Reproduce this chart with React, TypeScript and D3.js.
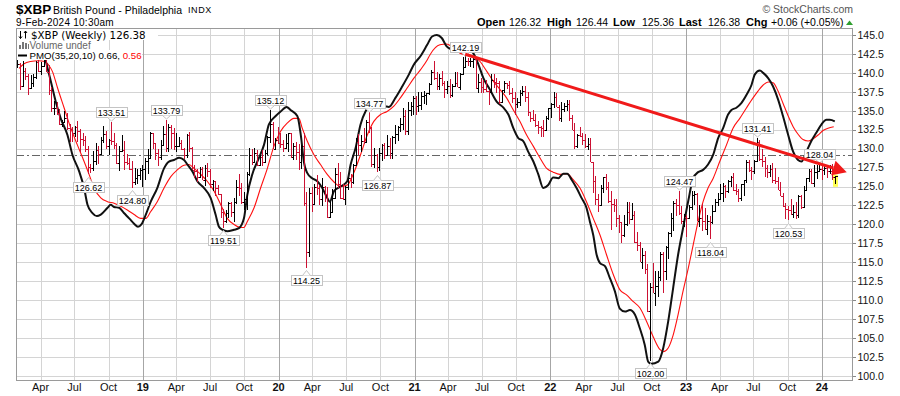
import React from "react";
import * as d3 from "d3";

// ---------- DATA ----------
const firstWeekStart = new Date(2018, 0, 29); // Monday of first weekly bar
const symbolName = "$XBP";
const title = "British Pound - Philadelphia";
const exchange = "INDX";
const stamp = "9-Feb-2024 10:30am";

const opens = [
  141.0, 141.2, 138.3, 140.2, 139.6, 138.0, 138.6, 139.4, 141.4, 140.2,
  140.9, 142.4, 140.1, 137.7, 135.3, 135.4, 134.7, 133.2, 133.5, 134.1,
  132.7, 132.6, 132.0, 132.8, 132.3, 131.3, 131.1, 130.0, 127.6, 127.4,
  128.4, 129.8, 129.3, 131.2, 131.9, 130.4, 131.2, 131.0, 130.5, 128.1,
  129.7, 129.8, 128.3, 128.1, 127.3, 125.6, 126.1, 126.5, 127.2, 127.3,
  128.4, 128.8, 132.0, 130.7, 129.4, 128.9, 130.5, 131.9, 130.1, 132.9,
  132.1, 130.3, 130.4, 130.8, 130.0, 129.2, 131.8, 130.1, 127.2, 127.1,
  126.3, 127.3, 125.9, 127.4, 127.0, 125.3, 125.7, 124.8, 124.0, 121.6,
  120.4, 121.5, 122.8, 121.6, 123.0, 124.9, 124.8, 122.9, 123.3, 126.7,
  129.2, 128.3, 129.4, 127.8, 128.9, 128.3, 129.4, 131.5, 133.3, 130.0,
  131.1, 130.8, 130.6, 130.1, 130.8, 132.0, 128.9, 130.4, 129.6, 128.2,
  130.4, 122.8, 116.4, 124.2, 122.7, 124.9, 124.8, 123.4, 124.9, 124.0,
  121.0, 121.7, 123.5, 126.6, 125.4, 123.5, 123.4, 124.9, 126.1, 125.6,
  127.9, 130.9, 130.5, 131.0, 130.9, 133.5, 132.7, 128.0, 129.2, 127.6,
  129.4, 130.5, 129.2, 130.4, 129.4, 131.5, 131.9, 132.8, 133.2, 134.3,
  132.3, 135.1, 135.6, 136.7, 135.6, 135.8, 136.9, 137.1, 137.3, 138.5,
  140.1, 139.3, 138.3, 139.3, 138.6, 137.9, 138.3, 137.1, 138.3, 138.7,
  138.2, 139.9, 140.8, 141.6, 141.5, 141.6, 141.8, 138.0, 138.8, 138.2,
  137.9, 137.6, 137.5, 139.0, 138.8, 138.7, 136.1, 137.7, 138.6, 138.4,
  137.3, 136.7, 135.9, 136.2, 137.4, 137.6, 136.8, 134.9, 134.1, 133.8,
  133.1, 132.9, 132.7, 132.4, 134.1, 135.3, 135.9, 136.8, 135.5, 134.0,
  135.2, 135.6, 135.9, 134.1, 132.5, 130.3, 131.8, 131.7, 131.1, 130.3,
  130.6, 128.3, 125.7, 123.4, 122.6, 124.8, 126.2, 124.9, 123.1, 122.7,
  122.6, 120.9, 120.3, 118.6, 120.1, 121.7, 120.7, 121.3, 117.7, 117.3,
  115.1, 115.9, 114.1, 108.6, 111.7, 110.9, 111.9, 113.0, 116.1, 113.8,
  117.0, 118.9, 120.9, 122.8, 122.6, 121.5, 120.5, 121.0, 120.9, 122.3,
  123.9, 124.0, 120.5, 120.9, 120.4, 119.4, 120.4, 120.3, 121.8, 122.9,
  123.4, 124.1, 125.1, 124.4, 125.7, 126.3, 124.5, 124.4, 123.5, 125.3,
  125.8, 128.2, 127.2, 127.0, 128.4, 130.9, 128.6, 128.4, 127.5, 126.9,
  127.3, 125.9, 125.7, 124.6, 123.8, 122.4, 122.0, 121.9, 121.4, 121.6,
  121.2, 123.8, 122.3, 124.5, 126.1, 127.1, 125.5, 126.9, 127.1, 127.3,
  127.2, 127.5, 127.0, 127.1, 126.32,
];

const highs = [
  142.5, 141.3, 141.5, 140.6, 139.8, 139.7, 139.9, 141.5, 142.5, 141.4,
  142.9, 143.8, 141.1, 138.2, 136.3, 136.2, 135.2, 133.8, 135.0, 134.7,
  133.2, 132.8, 133.0, 133.6, 132.6, 132.0, 131.7, 130.4, 128.0, 129.7,
  130.8, 130.3, 131.6, 133.0, 132.3, 131.3, 133.51, 132.0, 130.8, 130.3,
  131.8, 131.0, 129.3, 128.7, 128.4, 127.5, 127.3, 127.4, 127.9, 128.7,
  130.0, 132.2, 132.1, 130.8, 129.9, 131.1, 133.0, 133.79, 133.2, 133.1,
  132.7, 132.0, 131.5, 131.2, 130.1, 131.9, 132.2, 130.2, 127.9, 127.3,
  127.6, 127.6, 127.8, 128.1, 127.3, 125.9, 125.7, 125.2, 124.0, 122.0,
  121.9, 122.9, 123.0, 123.5, 125.8, 126.7, 125.5, 124.3, 126.9, 130.1,
  129.9, 130.1, 129.8, 129.2, 129.8, 129.8, 131.7, 135.12, 133.5, 131.4,
  132.8, 132.1, 131.2, 131.9, 132.1, 132.1, 130.7, 130.9, 130.6, 130.5,
  132.0, 124.3, 124.8, 124.9, 125.3, 126.5, 125.2, 126.1, 125.1, 124.9,
  122.9, 124.7, 127.4, 128.1, 126.9, 125.4, 125.1, 126.3, 126.6, 128.0,
  131.4, 131.9, 131.8, 132.7, 133.8, 134.77, 132.8, 130.1, 129.3, 130.1,
  130.6, 130.8, 131.8, 131.4, 131.7, 133.1, 133.0, 134.0, 135.4, 135.1,
  136.2, 136.2, 137.0, 137.0, 137.5, 137.5, 137.6, 137.4, 138.6, 140.4,
  141.6, 140.1, 139.8, 140.2, 138.9, 138.9, 139.2, 138.5, 140.1, 140.1,
  140.0, 142.1, 142.19, 141.9, 141.9, 142.0, 141.7, 139.8, 139.3, 139.1,
  139.1, 137.8, 139.8, 139.8, 139.3, 138.9, 137.8, 138.9, 138.7, 138.9,
  138.0, 137.5, 136.7, 137.7, 138.3, 138.3, 137.5, 134.8, 135.1, 134.6,
  133.7, 133.0, 133.8, 134.3, 135.4, 136.0, 137.5, 137.3, 135.8, 136.1,
  136.0, 136.4, 136.4, 134.4, 133.4, 131.9, 132.9, 132.1, 131.9, 131.4,
  131.4, 128.3, 126.4, 124.0, 125.2, 126.2, 126.7, 125.6, 124.4, 123.3,
  123.3, 121.3, 120.1, 121.3, 122.9, 122.9, 122.8, 121.8, 119.0, 117.7,
  116.9, 116.5, 114.8, 112.3, 114.9, 113.8, 113.8, 116.4, 116.3, 117.2,
  119.0, 121.5, 123.1, 123.4, 124.47, 122.4, 121.4, 121.2, 122.5, 124.4,
  124.4, 124.2, 122.6, 122.7, 122.2, 121.2, 121.1, 122.5, 123.4, 124.2,
  125.3, 125.5, 125.2, 125.9, 126.4, 126.8, 125.4, 124.7, 125.4, 125.9,
  128.5, 128.5, 127.6, 128.5, 131.41, 131.1, 129.9, 128.9, 127.9, 127.9,
  128.1, 127.5, 126.3, 125.6, 124.2, 122.8, 122.4, 123.4, 122.6, 122.9,
  123.9, 123.9, 125.1, 126.1, 127.3, 127.3, 127.9, 127.9, 128.04, 127.7,
  127.9, 127.8, 127.8, 128.0, 126.44,
];

const lows = [
  140.6, 137.7, 138.1, 139.0, 137.1, 137.9, 138.2, 139.2, 140.1, 139.7,
  140.9, 140.1, 137.1, 134.9, 134.5, 134.5, 133.1, 132.9, 133.4, 132.5,
  130.9, 130.9, 131.6, 130.9, 129.6, 130.3, 129.6, 126.62, 126.8, 127.1,
  127.9, 128.0, 129.2, 130.8, 129.9, 129.2, 130.5, 129.9, 128.0, 127.0,
  129.6, 127.2, 127.8, 127.2, 124.8, 125.2, 125.3, 125.9, 125.0, 125.9,
  126.7, 128.7, 130.0, 128.5, 127.7, 128.5, 130.4, 129.6, 129.6, 130.0,
  129.8, 129.6, 130.4, 129.8, 128.6, 128.8, 129.6, 127.2, 126.1, 125.6,
  126.2, 125.8, 125.1, 126.2, 124.8, 124.4, 123.8, 123.9, 120.8, 119.51,
  120.2, 120.9, 121.0, 120.3, 122.7, 123.8, 122.7, 121.9, 121.9, 126.4,
  127.9, 128.3, 127.7, 127.8, 127.7, 128.2, 129.2, 130.8, 129.9, 129.8,
  130.6, 130.1, 129.6, 129.9, 129.5, 128.7, 128.5, 128.5, 127.2, 127.3,
  122.4, 114.25, 115.7, 121.7, 122.7, 123.9, 122.5, 122.4, 123.0, 120.9,
  120.8, 121.9, 123.4, 124.8, 123.4, 123.2, 122.5, 124.5, 124.8, 125.4,
  127.9, 129.2, 129.6, 130.6, 130.8, 132.0, 127.6, 127.5, 126.87, 127.1,
  128.4, 128.6, 129.1, 128.6, 128.6, 130.6, 131.0, 132.2, 132.4, 131.8,
  131.8, 134.3, 134.5, 134.5, 134.9, 135.1, 135.9, 135.7, 137.1, 138.4,
  139.1, 137.8, 137.8, 138.3, 136.7, 137.2, 136.7, 136.8, 138.2, 138.2,
  137.8, 139.8, 140.7, 140.9, 140.8, 140.7, 137.9, 137.4, 137.3, 137.3,
  137.5, 135.7, 137.5, 138.0, 137.3, 135.9, 136.0, 137.3, 137.9, 137.1,
  136.0, 134.4, 135.3, 135.6, 137.0, 136.1, 134.3, 133.5, 133.6, 132.8,
  131.9, 131.6, 131.6, 132.6, 133.8, 134.1, 135.4, 135.5, 133.6, 133.5,
  134.9, 135.0, 133.6, 132.5, 130.0, 130.1, 131.5, 130.5, 130.1, 129.8,
  128.3, 124.1, 122.6, 121.6, 122.6, 124.1, 124.5, 122.8, 119.3, 121.6,
  119.7, 118.9, 117.6, 118.4, 119.8, 120.1, 120.6, 117.5, 116.5, 115.0,
  114.1, 113.5, 108.4, 102.0, 110.9, 109.2, 110.4, 112.6, 110.9, 112.7,
  115.5, 118.3, 119.1, 121.1, 121.3, 120.1, 119.6, 118.4, 120.7, 121.9,
  122.6, 120.4, 119.6, 119.1, 119.2, 118.6, 118.04, 120.1, 121.7, 122.4,
  123.4, 123.0, 123.5, 124.1, 124.9, 124.4, 123.9, 122.9, 123.1, 123.7,
  125.5, 126.9, 125.9, 126.6, 128.3, 128.4, 127.6, 126.2, 126.1, 126.2,
  125.5, 125.4, 124.5, 123.8, 122.3, 120.7, 120.53, 121.2, 120.9, 120.7,
  120.9, 122.0, 122.3, 124.5, 125.6, 125.4, 124.9, 126.0, 126.9, 125.9,
  126.5, 126.1, 126.6, 125.9, 125.36,
];

const closes = [
  141.2, 138.3, 140.2, 139.6, 138.0, 138.6, 139.4, 141.4, 140.2, 140.9,
  142.4, 140.1, 137.7, 135.3, 135.4, 134.7, 133.2, 133.5, 134.1, 132.7,
  132.6, 132.0, 132.8, 132.3, 131.3, 131.1, 130.0, 127.6, 127.4, 128.4,
  129.8, 129.3, 131.2, 131.9, 130.4, 131.2, 131.0, 130.5, 128.1, 129.7,
  129.8, 128.3, 128.1, 127.3, 125.6, 126.1, 126.5, 127.2, 127.3, 128.4,
  128.8, 132.0, 130.7, 129.4, 128.9, 130.5, 131.9, 130.1, 132.9, 132.1,
  130.3, 130.4, 130.8, 130.0, 129.2, 131.8, 130.1, 127.2, 127.1, 126.3,
  127.3, 125.9, 127.4, 127.0, 125.3, 125.7, 124.8, 124.0, 121.6, 120.4,
  121.5, 122.8, 121.6, 123.0, 124.9, 124.8, 122.9, 123.3, 126.7, 129.2,
  128.3, 129.4, 127.8, 128.9, 128.3, 129.4, 131.5, 133.3, 130.0, 131.1,
  130.8, 130.6, 130.1, 130.8, 132.0, 128.9, 130.4, 129.6, 128.2, 130.4,
  122.8, 116.4, 124.2, 122.7, 124.9, 124.8, 123.4, 124.9, 124.0, 121.0,
  121.7, 123.5, 126.6, 125.4, 123.5, 123.4, 124.9, 126.1, 125.6, 127.9,
  130.9, 130.5, 131.0, 130.9, 133.5, 132.7, 128.0, 129.2, 127.6, 129.4,
  130.5, 129.2, 130.4, 129.4, 131.5, 131.9, 132.8, 133.2, 134.3, 132.3,
  135.1, 135.6, 136.7, 135.6, 135.8, 136.9, 137.1, 137.3, 138.5, 140.1,
  139.3, 138.3, 139.3, 138.6, 137.9, 138.3, 137.1, 138.3, 138.7, 138.2,
  139.9, 140.8, 141.6, 141.5, 141.6, 141.8, 138.0, 138.8, 138.2, 137.9,
  137.6, 137.5, 139.0, 138.8, 138.7, 136.1, 137.7, 138.6, 138.4, 137.3,
  136.7, 135.9, 136.2, 137.4, 137.6, 136.8, 134.9, 134.1, 133.8, 133.1,
  132.9, 132.7, 132.4, 134.1, 135.3, 135.9, 136.8, 135.5, 134.0, 135.2,
  135.6, 135.9, 134.1, 132.5, 130.3, 131.8, 131.7, 131.1, 130.3, 130.6,
  128.3, 125.7, 123.4, 122.6, 124.8, 126.2, 124.9, 123.1, 122.7, 122.6,
  120.9, 120.3, 118.6, 120.1, 121.7, 120.7, 121.3, 117.7, 117.3, 115.1,
  115.9, 114.1, 108.6, 111.7, 110.9, 111.9, 113.0, 116.1, 113.8, 117.0,
  118.9, 120.9, 122.8, 122.6, 121.5, 120.5, 121.0, 120.9, 122.3, 123.9,
  124.0, 120.5, 120.9, 120.4, 119.4, 120.4, 120.3, 121.8, 122.9, 123.4,
  124.1, 125.1, 124.4, 125.7, 126.3, 124.5, 124.4, 123.5, 125.3, 125.8,
  128.2, 127.2, 127.0, 128.4, 130.9, 128.6, 128.4, 127.5, 126.9, 127.3,
  125.9, 125.7, 124.6, 123.8, 122.4, 122.0, 121.9, 121.4, 121.6, 121.2,
  123.8, 122.3, 124.5, 126.1, 127.1, 125.5, 126.9, 127.1, 127.3, 127.2,
  127.5, 127.0, 127.1, 126.32, 126.38,
];

// PMO line and its signal, read as [week index, value on the price axis]
const pmoLine: [number, number][] = [
  [0, 143.2], [4, 144.6], [7, 144.5], [9.5, 143.2], [10.9, 141.5], [12.8, 138.9], [14.7, 136.2],
  [16.6, 134.0], [19.2, 131.8], [21.1, 129.2], [23.7, 127.0], [25.6, 124.8], [26.9, 122.6],
  [28.8, 121.5], [30.5, 121.1], [32.0, 121.3], [34.6, 122.2], [35.8, 122.6], [37.1, 122.3],
  [39.0, 122.2], [40.9, 121.5], [42.9, 120.8], [44.8, 120.1], [46.3, 119.7], [47.6, 120.0],
  [49.3, 121.3], [51.2, 123.0], [53.7, 124.8], [56.3, 127.4], [58.2, 128.3], [60.1, 128.5],
  [62.1, 128.8], [64.0, 128.5], [65.3, 127.9], [67.2, 127.0], [69.1, 125.7], [71.7, 124.8],
  [74.2, 123.5], [76.1, 121.3], [77.4, 119.7], [78.7, 119.3], [80.6, 119.1], [83.2, 119.3],
  [85.1, 119.5], [87.0, 120.8], [88.3, 123.9], [90.2, 126.6], [92.8, 128.8], [94.7, 130.5],
  [96.6, 133.2], [99.2, 134.3], [101.1, 134.9], [103.4, 135.5], [104.9, 135.1], [107.5, 134.3],
  [109.0, 131.4], [110.0, 128.3], [111.3, 126.8], [113.2, 126.1], [115.2, 125.7], [117.1, 124.8],
  [119.0, 123.5], [120.0, 123.0], [121.6, 124.4], [124.1, 125.0], [126.7, 125.7], [128.0, 127.9],
  [129.9, 130.1], [131.8, 133.2], [133.7, 134.9], [135.6, 135.7], [138.2, 135.5], [140.8, 135.6],
  [142.7, 135.5], [145.2, 136.7], [147.8, 138.2], [150.4, 139.8], [152.3, 141.1], [154.8, 142.2],
  [157.4, 143.7], [159.3, 144.8], [161.1, 145.0], [163.0, 144.6], [164.9, 143.5], [166.8, 143.1],
  [168.7, 142.8], [171.3, 142.9], [173.2, 143.1], [175.1, 142.6], [177.1, 141.1], [179.0, 139.3],
  [181.5, 137.8], [184.1, 136.2], [186.7, 135.4], [188.6, 134.5], [190.5, 132.7], [192.4, 131.4],
  [194.3, 131.0], [196.2, 129.6], [198.2, 128.3], [200.1, 126.6], [202.0, 124.8], [203.9, 125.2],
  [205.8, 126.2], [207.8, 126.1], [209.7, 126.7], [211.2, 126.7], [212.9, 125.9], [214.8, 124.8],
  [216.7, 123.5], [218.6, 122.2], [219.9, 120.4], [221.2, 118.6], [222.5, 116.0], [223.8, 114.9],
  [225.7, 114.5], [227.6, 112.9], [229.5, 111.2], [231.4, 108.9], [233.4, 108.5], [235.3, 108.7],
  [237.2, 108.1], [239.1, 106.3], [241.0, 104.1], [242.3, 101.9], [243.5, 101.6], [246.2, 101.9],
  [248.1, 103.7], [250.0, 107.2], [251.9, 111.6], [253.8, 116.0], [255.7, 119.5], [257.7, 123.1],
  [259.6, 126.1], [261.5, 126.9], [263.4, 127.2], [265.3, 127.9], [267.3, 129.2], [269.2, 131.4],
  [271.1, 132.7], [273.0, 134.5], [274.3, 135.1], [276.2, 135.4], [278.1, 136.0], [280.1, 137.1],
  [282.0, 138.4], [283.3, 139.8], [285.2, 140.3], [286.5, 140.0], [288.4, 139.3], [290.3, 138.2],
  [292.2, 136.5], [294.1, 134.3], [296.1, 131.8], [298.0, 129.6], [299.9, 128.5], [301.2, 128.3],
  [303.1, 129.6], [305.0, 131.0], [306.9, 132.1], [308.9, 133.2], [310.8, 133.8], [312.1, 133.8],
  [314.0, 133.6],
];

const pmoSignal: [number, number][] = [
  [0.6, 140.6], [2.5, 141.2], [5, 141.5], [8, 141.6], [10.5, 141.5], [12, 141.0], [13.4, 140.2],
  [15.4, 138.0], [17.9, 135.4], [20.5, 132.7], [23.0, 130.5], [25.6, 128.3], [27.5, 126.6],
  [29.4, 124.8], [32.0, 123.5], [34.6, 123.0], [37.1, 122.8], [39.7, 122.4], [42.2, 121.9],
  [44.8, 121.3], [47.3, 120.8], [49.3, 120.8], [51.2, 121.7], [53.7, 123.0], [56.3, 124.8],
  [58.9, 126.3], [61.4, 127.2], [64.0, 127.8], [65.9, 127.9], [67.8, 127.4], [70.4, 126.6],
  [72.9, 125.7], [75.5, 124.4], [78.1, 122.6], [80.6, 120.8], [83.2, 120.0], [85.7, 119.6],
  [87.0, 119.6], [88.3, 120.4], [90.9, 122.2], [93.4, 124.8], [96.0, 127.4], [98.5, 130.3],
  [101.1, 132.3], [103.7, 133.4], [106.2, 134.0], [108.1, 134.0], [109.4, 132.7], [111.3, 131.0],
  [113.9, 129.2], [116.4, 127.9], [119.0, 126.6], [121.6, 125.6], [124.1, 125.0], [126.7, 125.2],
  [129.2, 126.8], [131.8, 129.2], [134.4, 131.8], [136.9, 133.6], [139.5, 134.5], [142.0, 134.9],
  [144.6, 135.6], [147.1, 136.7], [149.7, 138.0], [152.3, 139.3], [154.8, 140.4], [157.4, 141.7],
  [158.5, 142.4], [162.3, 143.7], [164.9, 143.8], [167.5, 143.3], [170.0, 142.6], [172.6, 142.4],
  [175.1, 142.2], [177.7, 141.5], [180.3, 140.2], [182.8, 138.9], [185.4, 137.8], [187.9, 136.7],
  [190.5, 135.1], [193.0, 133.6], [195.6, 131.8], [198.2, 130.3], [200.7, 128.8], [203.3, 127.4],
  [205.8, 126.9], [208.4, 126.6], [211.0, 126.7], [213.5, 125.9], [216.1, 124.8], [218.6, 123.0],
  [221.2, 120.8], [223.8, 118.6], [226.3, 116.0], [228.9, 113.4], [231.4, 111.4], [234.0, 110.7],
  [236.6, 109.8], [239.1, 109.0], [241.7, 107.2], [244.2, 105.2], [246.8, 103.5], [248.1, 103.2],
  [250.0, 103.7], [251.9, 105.4], [253.8, 108.1], [255.7, 111.2], [257.7, 114.2], [259.6, 117.3],
  [261.5, 120.4], [263.4, 123.0], [265.3, 124.8], [267.3, 126.1], [269.8, 128.3], [272.4, 130.5],
  [274.9, 132.7], [277.5, 134.0], [280.1, 135.4], [282.6, 136.7], [284.5, 137.6], [286.5, 138.4],
  [288.4, 138.8], [290.3, 138.7], [292.2, 137.6], [294.1, 136.0], [296.1, 134.3], [298.0, 132.9],
  [299.9, 131.9], [301.8, 131.2], [303.8, 131.0], [305.7, 131.3], [307.6, 131.8], [309.5, 132.4],
  [311.4, 132.7], [313.6, 132.9],
];

const pmoLegendValues = ["0.66", "0.56"];

// labelled highs / lows (week index + which extreme)
const calloutWeeks = [27, 36, 44, 57, 79, 97, 111, 135, 138, 172, 243, 254, 266, 284, 296, 308];
const calloutKinds = ["low", "high", "low", "high", "low", "high", "low", "high", "low", "high", "low", "high", "low", "high", "low", "high"];

// drawn trend line: [week index, price]
const trendStart: [number, number] = [172, 142.45];
const trendEnd: [number, number] = [318.6, 126.9];

const referenceLevel = 129.15;
const yTicks = d3.range(100, 145.01, 2.5);
const quarterMonths = [0, 3, 6, 9];
const monthNames: Record<number, string> = { 3: "Apr", 6: "Jul", 9: "Oct" };

// ---------- LAYOUT ----------
const W = 900;
const H = 396;
const L = 16, R = 853, T = 28, B = 380;
const SANS = "'Liberation Sans', Arial, Helvetica, sans-serif";
const DEJAVU = "'DejaVu Sans', Verdana, sans-serif";
const RED_BAR = "#cc1133";

const weekDate = (k: number) => new Date(firstWeekStart.getTime() + k * 7 * 86400000);

export default function App() {
  const x = d3.scaleTime().domain([new Date(2018, 0, 25), new Date(2024, 2, 25)]).range([L, R]);
  const y = d3.scaleLinear().domain([99.47, 145.92]).range([B, T]);
  const n = Math.min(opens.length, highs.length, lows.length, closes.length);
  const last = n - 1;

  const gridDates: Date[] = [];
  for (let yr = 2018; yr <= 2024; yr++) {
    for (const m of quarterMonths) {
      const d = new Date(yr, m, 1);
      if (x(d) > L + 1 && x(d) < R - 1) gridDates.push(d);
    }
  }

  const lineGen = d3
    .line<[number, number]>()
    .x((d) => x(weekDate(d[0])))
    .y((d) => y(d[1]))
    .curve(d3.curveMonotoneX);

  const px = (v: number) => Math.round(v) + 0.5;

  // trend line + arrow
  const p0 = [x(weekDate(trendStart[0])), y(trendStart[1])];
  const p1 = [x(weekDate(trendEnd[0])), y(trendEnd[1])];
  const dx = p1[0] - p0[0], dy = p1[1] - p0[1];
  const len = Math.hypot(dx, dy);
  const ux = dx / len, uy = dy / len;
  const headLen = 14, headHalf = 7.5;
  const base = [p1[0] - ux * headLen, p1[1] - uy * headLen];
  const arrow = `M${p1[0]},${p1[1]}L${base[0] - uy * headHalf},${base[1] + ux * headHalf}L${base[0] + uy * headHalf},${base[1] - ux * headHalf}Z`;

  const lastClose = closes[last];
  const prevClose = closes[last - 1];
  const chg = lastClose - prevClose;
  const chgPct = (chg / prevClose) * 100;
  const sign = chg >= 0 ? "+" : "";

  return (
    <svg
      width={W}
      height={H}
      viewBox={`0 0 ${W} ${H}`}
      style={{ position: "fixed", left: 0, top: 0, background: "#fff" }}
      fontFamily={SANS}
    >
      <defs>
        <clipPath id="plot">
          <rect x={L} y={T} width={R - L} height={B - T} />
        </clipPath>
      </defs>
      <rect x={0} y={0} width={W} height={H} fill="#fff" />

      {/* header */}
      <text x={16} y={13.5} fontSize={13.5} fontWeight="bold" fill="#000">{symbolName}</text>
      <text x={53} y={13.5} fontSize={10.5} fill="#000">{title}</text>
      <text x={188} y={13} fontSize={9} letterSpacing={0.6} fill="#000">{exchange}</text>
      <text x={16} y={26} fontSize={10} letterSpacing={0.25} fill="#000">{stamp}</text>
      <text x={853} y={13} fontSize={10.5} textAnchor="end" fill="#555">© StockCharts.com</text>

      <g fontSize={10.5} fill="#000">
        <text x={477} y={26} fontSize={11} fontWeight="bold">Open</text>
        <text x={509} y={26}>{opens[last].toFixed(2)}</text>
        <text x={547} y={26} fontSize={11} fontWeight="bold">High</text>
        <text x={576} y={26}>{highs[last].toFixed(2)}</text>
        <text x={613} y={26} fontSize={11} fontWeight="bold">Low</text>
        <text x={642} y={26}>{lows[last].toFixed(2)}</text>
        <text x={679} y={26} fontSize={11} fontWeight="bold">Last</text>
        <text x={708} y={26}>{lastClose.toFixed(2)}</text>
        <text x={746} y={26} fontSize={11} fontWeight="bold">Chg</text>
        <text x={771} y={26}>{`${sign}${chg.toFixed(2)} (${sign}${chgPct.toFixed(2)}%)`}</text>
      </g>
      <path d="M846,25L849.5,20.5L853,25Z" fill="#2e9e2e" />

      {/* grid */}
      <g shapeRendering="crispEdges">
        {yTicks.map((v) => (
          <line key={"h" + v} x1={L} x2={R} y1={px(y(v))} y2={px(y(v))} stroke="#d4d4d4" />
        ))}
        {gridDates.map((d) => (
          <line
            key={"v" + d.getTime()}
            x1={px(x(d))}
            x2={px(x(d))}
            y1={T}
            y2={B}
            stroke={d.getMonth() === 0 ? "#a6a6a6" : "#d4d4d4"}
          />
        ))}
        <line x1={L} x2={R} y1={px(y(referenceLevel))} y2={px(y(referenceLevel))} stroke="#666" strokeDasharray="8,3,2,3" />
      </g>

      <g clipPath="url(#plot)">
        {/* PMO lines */}
        <path d={lineGen(pmoSignal) || ""} fill="none" stroke="#ff1010" strokeWidth={1.1} />
        <path d={lineGen(pmoLine) || ""} fill="none" stroke="#111" strokeWidth={2} />

        {/* last bar highlight */}
        <rect
          x={px(x(weekDate(last))) - 2.5}
          y={y(highs[last]) - 1}
          width={5}
          height={y(lows[last]) - y(highs[last]) + 4}
          fill="#ffff55"
        />

        {/* OHLC bars */}
        <g shapeRendering="crispEdges" strokeWidth={1} fill="none">
          {d3.range(n).map((k) => {
            const cx = px(x(weekDate(k)));
            const o = opens[k], h = highs[k], l = lows[k], c = closes[k];
            const ref = k === 0 ? o : closes[k - 1];
            const color = c >= ref ? "#000" : RED_BAR;
            const top = y(Math.max(h, o, c));
            const bot = y(Math.min(l, o, c));
            const yo = px(y(o));
            const yc = px(y(c));
            return (
              <path
                key={k}
                d={`M${cx},${top}V${bot}M${cx - 2},${yo}H${cx}M${cx},${yc}H${cx + 2}`}
                stroke={color}
              />
            );
          })}
        </g>
      </g>

      {/* callouts */}
      <g fontSize={9} textAnchor="middle">
        {calloutWeeks.map((k, i) => {
          const isHigh = calloutKinds[i] === "high";
          const v = isHigh ? highs[k] : lows[k];
          const cx = px(x(weekDate(k)));
          const yv = y(v);
          const bw = 31, bh = 10;
          const top = isHigh ? yv - 4.7 - bh : yv + 7.3;
          const left = Math.round(cx - bw / 2) + 0.5;
          const boxTop = Math.round(top) + 0.5;
          const ptr = isHigh
            ? `M${cx - 4},${boxTop + bh}L${cx},${boxTop + bh + 3.5}L${cx + 4},${boxTop + bh}`
            : `M${cx - 4},${boxTop}L${cx},${boxTop - 5}L${cx + 4},${boxTop}`;
          return (
            <g key={"c" + k}>
              <rect x={left} y={boxTop} width={bw} height={bh} fill="#fff" stroke="#c4c4c4" />
              <path d={ptr} fill="#fff" stroke="#c4c4c4" />
              <text x={cx} y={boxTop + 8.3} fill="#000">{v.toFixed(2)}</text>
            </g>
          );
        })}
      </g>

      {/* trend line */}
      <line x1={p0[0]} y1={p0[1]} x2={base[0]} y2={base[1]} stroke="#f01a1a" strokeWidth={3} />
      <path d={arrow} fill="#f01a1a" />

      {/* frame */}
      <rect x={L + 0.5} y={T + 0.5} width={R - L - 1} height={B - T} fill="none" stroke="#9a9a9a" shapeRendering="crispEdges" />

      {/* y axis */}
      <g fontSize={10.5} fill="#111">
        {yTicks.map((v) => (
          <g key={"yl" + v}>
            <line x1={R} x2={R + 3} y1={px(y(v))} y2={px(y(v))} stroke="#888" shapeRendering="crispEdges" />
            <text x={857.5} y={y(v) + 3.8}>{v.toFixed(1)}</text>
          </g>
        ))}
      </g>

      {/* x axis */}
      <g fontSize={11} textAnchor="middle" fill="#111">
        {gridDates.map((d) => {
          const isYear = d.getMonth() === 0;
          const label = isYear ? String(d.getFullYear() % 100).padStart(2, "0") : monthNames[d.getMonth()];
          return (
            <text key={"xl" + d.getTime()} x={x(d)} y={391} fontWeight={isYear ? "bold" : "normal"}>
              {label}
            </text>
          );
        })}
      </g>

      {/* legend (white backing hides lines under it) */}
      <rect x={17} y={29} width={141} height={11} fill="#fff" />
      <rect x={17} y={40} width={76} height={10} fill="#fff" />
      <rect x={17} y={50} width={125} height={10} fill="#fff" />
      <path d="M20.5,31V38.5M19,36.5L20.5,38.5L22,36.5M25.5,31V38.5M24,33L25.5,31L27,33" stroke="#000" fill="none" strokeWidth={1} />
      <text x={31} y={38.5} fontFamily={DEJAVU} fontSize={10.3} fill="#000">{`${symbolName} (Weekly) ${lastClose.toFixed(2)}`}</text>
      <g fill="#777" shapeRendering="crispEdges">
        <rect x={19} y={45} width={2} height={4} />
        <rect x={22} y={42} width={2} height={7} />
        <rect x={25} y={43} width={2} height={6} />
        <rect x={28} y={44} width={1} height={5} />
      </g>
      <text x={29.5} y={48.8} fontSize={10} fill="#666">Volume undef</text>
      <line x1={18} x2={27} y1={55.5} y2={55.5} stroke="#000" strokeWidth={2} />
      <text x={29.5} y={59} fontSize={9.7} fill="#000">
        {`PMO(35,20,10) ${pmoLegendValues[0]}, `}
        <tspan fill="#ff0000">{pmoLegendValues[1]}</tspan>
      </text>
    </svg>
  );
}
